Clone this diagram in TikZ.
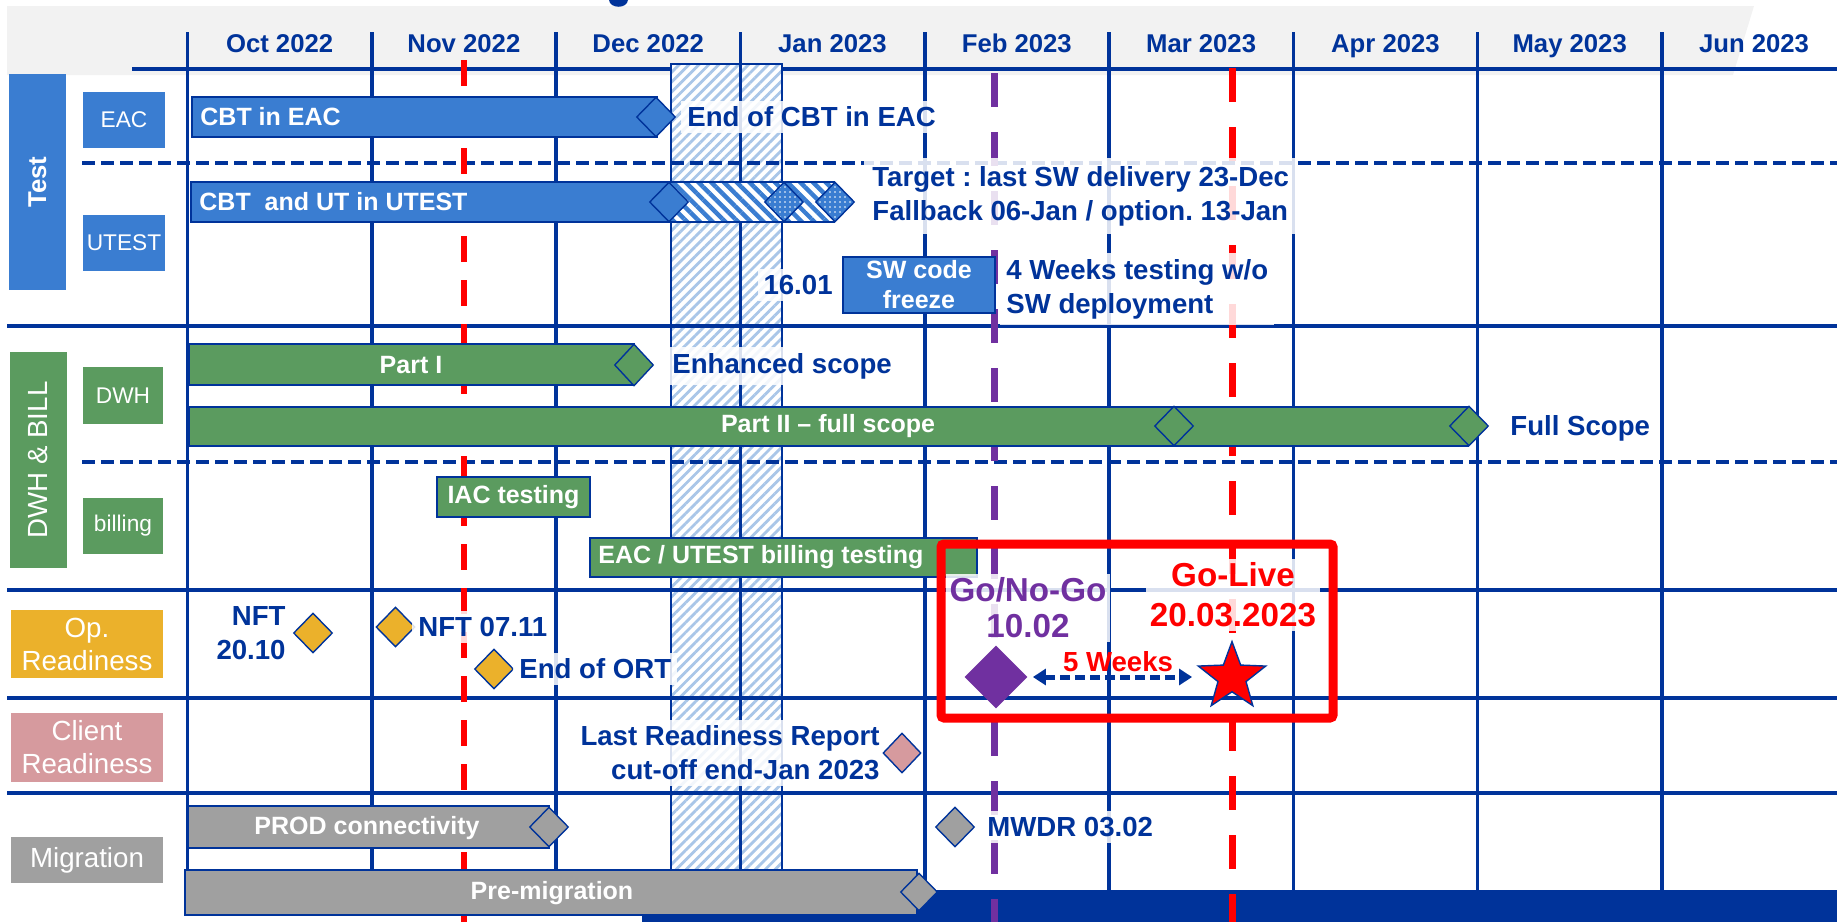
\documentclass[tikz,border=0pt]{standalone}
\usepackage{fontspec}
\setmainfont{Liberation Sans}
\usepackage{xcolor}
\usetikzlibrary{shapes.geometric,patterns.meta,arrows.meta}
\definecolor{navy}{HTML}{00339A}
\definecolor{ublue}{HTML}{3A7DD1}
\definecolor{dgreen}{HTML}{5B9B5F}
\definecolor{opyellow}{HTML}{EBB12B}
\definecolor{clpink}{HTML}{D69A9E}
\definecolor{mgray}{HTML}{A0A0A0}
\definecolor{gopurple}{HTML}{7030A0}
\definecolor{hatchblue}{HTML}{A9C6E8}
\definecolor{headgray}{HTML}{F2F2F2}
\newcommand\fMonth{\fontsize{12.85}{15}\selectfont\bfseries}
\newcommand\fBar{\fontsize{12.5}{15}\selectfont\bfseries}
\newcommand\fLabel{\fontsize{13.8}{17}\selectfont\bfseries}
\newcommand\fBox{\fontsize{11.35}{13}\selectfont}
\newcommand\fSide{\fontsize{13.85}{16.5}\selectfont}
\newcommand\fBig{\fontsize{16.6}{18}\selectfont\bfseries}
\frenchspacing

\begin{document}
\begin{tikzpicture}[x=0.5pt, y=-0.5pt,
    vline/.style={navy, line width=1.8pt},
    hline/.style={navy, line width=1.7pt},
    dline/.style={navy, line width=2pt, dash pattern=on 6.5pt off 3pt},
    bar/.style={draw=navy, line width=1pt},
    bartext/.style={font=\fBar, text=white, inner sep=0pt},
    lbl/.style={font=\fLabel, text=navy, fill=white, fill opacity=0.85, text opacity=1, inner sep=3pt},
    side/.style={text=white, inner sep=0pt},
    ms/.style={diamond, draw=navy, line width=0.7pt, inner sep=0pt, minimum width=19.5pt, minimum height=20pt}]
    \useasboundingbox (0,0) rectangle (1837,922);
    \fill[headgray] (7,6) -- (1754,6) -- (1733,75) -- (7,75) -- cycle;
    \fill[navy] (609,0) .. controls (610,9) and (627,9) .. (628,0) -- cycle;
    \draw[navy, line width=2.4pt] (132,69) -- (1837,69);
    \draw[navy, line width=1pt, preaction={fill=white}, pattern={Lines[angle=45,distance=3.5pt,line width=1.4pt]}, pattern color=hatchblue] (671,64) rectangle (782,880);
    \foreach \i in {0,...,8}
        \draw[vline] ({187.5+184.3*\i},32) -- ({187.5+184.3*\i},890);
    \foreach \y in {326,590,698,793}
        \draw[hline] (7,\y) -- (1837,\y);
    \foreach \y in {163,462}
        \draw[dline] (82,\y) -- (1837,\y);
    \fill[navy] (642,890) rectangle (1837,922);
    \foreach \m [count=\i from 0] in {Oct 2022,Nov 2022,Dec 2022,Jan 2023,Feb 2023,Mar 2023,Apr 2023,May 2023,Jun 2023}
        \node[font=\fMonth, text=navy, text height=9.2pt, text depth=0pt] (month\i) at ({279.6+184.3*\i},43) {\m};
    \draw[red, line width=3.2pt, dash pattern=on 13pt off 9pt] (464,60) -- (464,922);
    \draw[gopurple, line width=3.5pt, dash pattern=on 17pt off 12.5pt] (994,73) -- (994,922);
    \draw[red, line width=3.5pt, dash pattern=on 17pt off 12.5pt] (1232,68) -- (1232,922);

    \node[side, fill=ublue, rotate=90, minimum width=108pt, minimum height=28.5pt, font=\fontsize{12.9}{15}\selectfont\bfseries] (test) at (37.5,182) {Test};
    \node[side, fill=ublue, minimum width=41pt, minimum height=28pt, font=\fBox] (eac) at (124,120) {EAC};
    \node[side, fill=ublue, minimum width=41pt, minimum height=28pt, font=\fBox] (utest) at (124,243) {UTEST};
    \node[side, fill=dgreen, rotate=90, minimum width=108pt, minimum height=28.5pt, font=\fSide] (dwhbill) at (38.5,460) {DWH \& BILL};
    \node[side, fill=dgreen, minimum width=40pt, minimum height=28.5pt, font=\fBox] (dwh) at (123,395.5) {DWH};
    \node[side, fill=dgreen, minimum width=40pt, minimum height=28pt, font=\fBox] (billing) at (123,526) {billing};
    \node[side, fill=opyellow, minimum width=76pt, minimum height=34pt, font=\fSide, align=center] (opready) at (87,644) {Op.\\Readiness};
    \node[side, fill=clpink, minimum width=76pt, minimum height=34.5pt, font=\fSide, align=center] (clready) at (87,747.5) {Client\\Readiness};
    \node[side, fill=mgray, minimum width=76pt, minimum height=23pt, font=\fSide] (migration) at (87,860) {Migration};

    \filldraw[bar, fill=ublue] (192,97) rectangle (657,137);
    \node[ms, fill=ublue] (eacend) at (656,117) {};
    \node[bartext, anchor=west] (cbteac) at (200,117) {CBT in EAC};
    \node[lbl, anchor=west] (eacendlbl) at (681,117) {End of CBT in EAC};

    \filldraw[bar, fill=ublue] (191,182) rectangle (669,222);
    \draw[bar, preaction={fill=white}, pattern={Lines[angle=-45,distance=4.5pt,line width=2.2pt]}, pattern color=ublue] (669,182) rectangle (834,222);
    \node[ms, fill=ublue] (utestend) at (669,202) {};
    \foreach \x/\n in {784/utestfb1,835/utestfb2}
        \node[ms, preaction={fill=ublue}, pattern={Dots[distance=2.5pt,radius=0.45pt]}, pattern color=white] (\n) at (\x,202) {};
    \node[bartext, anchor=west] (cbtutest) at (199,202) {CBT\ \ and UT in UTEST};
    \node[lbl, anchor=west, align=left, inner sep=4pt] (target) at (864,196) {Target : last SW delivery 23-Dec\\Fallback 06-Jan / option. 13-Jan};
    \node[draw=navy, line width=1pt, fill=ublue, text=white, font=\fBar, align=center, minimum width=76pt, minimum height=28pt, inner sep=0pt] (swfreeze) at (919,285) {SW code\\freeze};
    \node[lbl, anchor=east] (janfreeze) at (839,285) {16.01};
    \node[lbl, anchor=west, align=left] (weeks4) at (1000,289) {4 Weeks testing w/o\\SW deployment};

    \filldraw[bar, fill=dgreen] (189,344) rectangle (634,385);
    \node[ms, fill=dgreen, minimum height=21pt] (part1end) at (634,365) {};
    \node[bartext] (part1) at (411,365) {Part I};
    \node[lbl, anchor=west] (enhanced) at (666,366) {Enhanced scope};
    \filldraw[bar, fill=dgreen] (189,407) rectangle (1468,446);
    \node[ms, fill=dgreen] (part2mid) at (1174,426) {};
    \node[ms, fill=dgreen] (part2end) at (1469,426) {};
    \node[bartext] (part2) at (828,426) {Part II -- full scope};
    \node[lbl, anchor=west] (fullscope) at (1504,428) {Full Scope};

    \filldraw[bar, fill=dgreen] (437,477) rectangle (590,517);
    \node[bartext] (iac) at (513.5,497) {IAC testing};
    \filldraw[bar, fill=dgreen] (590,538) rectangle (977,577);
    \node[bartext, anchor=west] (billtest) at (598,557) {EAC / UTEST billing testing};

    \node[lbl, anchor=east, align=right, fill=none] (nft1lbl) at (292,633) {NFT\\20.10};
    \node[ms, fill=opyellow] (nft1) at (313,633) {};
    \node[ms, fill=opyellow] (nft2) at (395.5,627) {};
    \node[lbl, anchor=west] (nft2lbl) at (412,627) {NFT 07.11};
    \node[ms, fill=opyellow] (ortend) at (494,669) {};
    \node[lbl, anchor=west] (ortendlbl) at (513,669) {End of ORT};

    \node[lbl, anchor=east, align=right] (lastrep) at (886,753) {Last Readiness Report\\cut-off end-Jan 2023};
    \node[ms, fill=clpink, minimum width=19pt] (clientrep) at (902,753) {};

    \filldraw[bar, fill=mgray] (188,806) rectangle (549,848);
    \node[ms, fill=mgray] (prodend) at (549,827) {};
    \node[bartext] (prod) at (367,828) {PROD connectivity};
    \node[ms, fill=mgray] (mwdr) at (955,827) {};
    \node[lbl, anchor=west] (mwdrlbl) at (981,827) {MWDR 03.02};
    \filldraw[bar, fill=mgray] (185,870) rectangle (917,915);
    \node[ms, fill=mgray, minimum width=18.5pt, minimum height=19pt] (premigend) at (919,892) {};
    \node[bartext] (premig) at (552,893) {Pre-migration};

    \node[font=\fBig, text=gopurple, align=center, fill=white, fill opacity=0.85, text opacity=1, inner sep=2pt] (gonogolbl) at (1028,608) {Go/No-Go\\10.02};
    \node[font={\fontsize{16.6}{20}\selectfont\bfseries}, text=red, align=center, fill=white, fill opacity=0.85, text opacity=1, inner sep=2pt] (golivelbl) at (1233,595) {Go-Live\\20.03.2023};
    \node[diamond, fill=gopurple, inner sep=0pt, minimum size=31.5pt] (gonogo) at (996,677) {};
    \node[star, star points=5, star point ratio=2.4, fill=red, draw=navy, line width=0.7pt, inner sep=0pt, minimum size=35.4pt] (golive) at (1232,677) {};
    \draw[navy, line width=2.5pt, dash pattern=on 5pt off 2.5pt, {Triangle[length=6.5pt,width=8pt]}-{Triangle[length=6.5pt,width=8pt]}, shorten <=2.5pt, shorten >=9.5pt] (gonogo) -- (golive);
    \node[font=\fLabel, text=red] (weeks5) at (1118,662) {5 Weeks};
    \draw[red, line width=4.5pt, rounded corners=1.5pt] (941,544) rectangle (1333,718);
\end{tikzpicture}
\end{document}
